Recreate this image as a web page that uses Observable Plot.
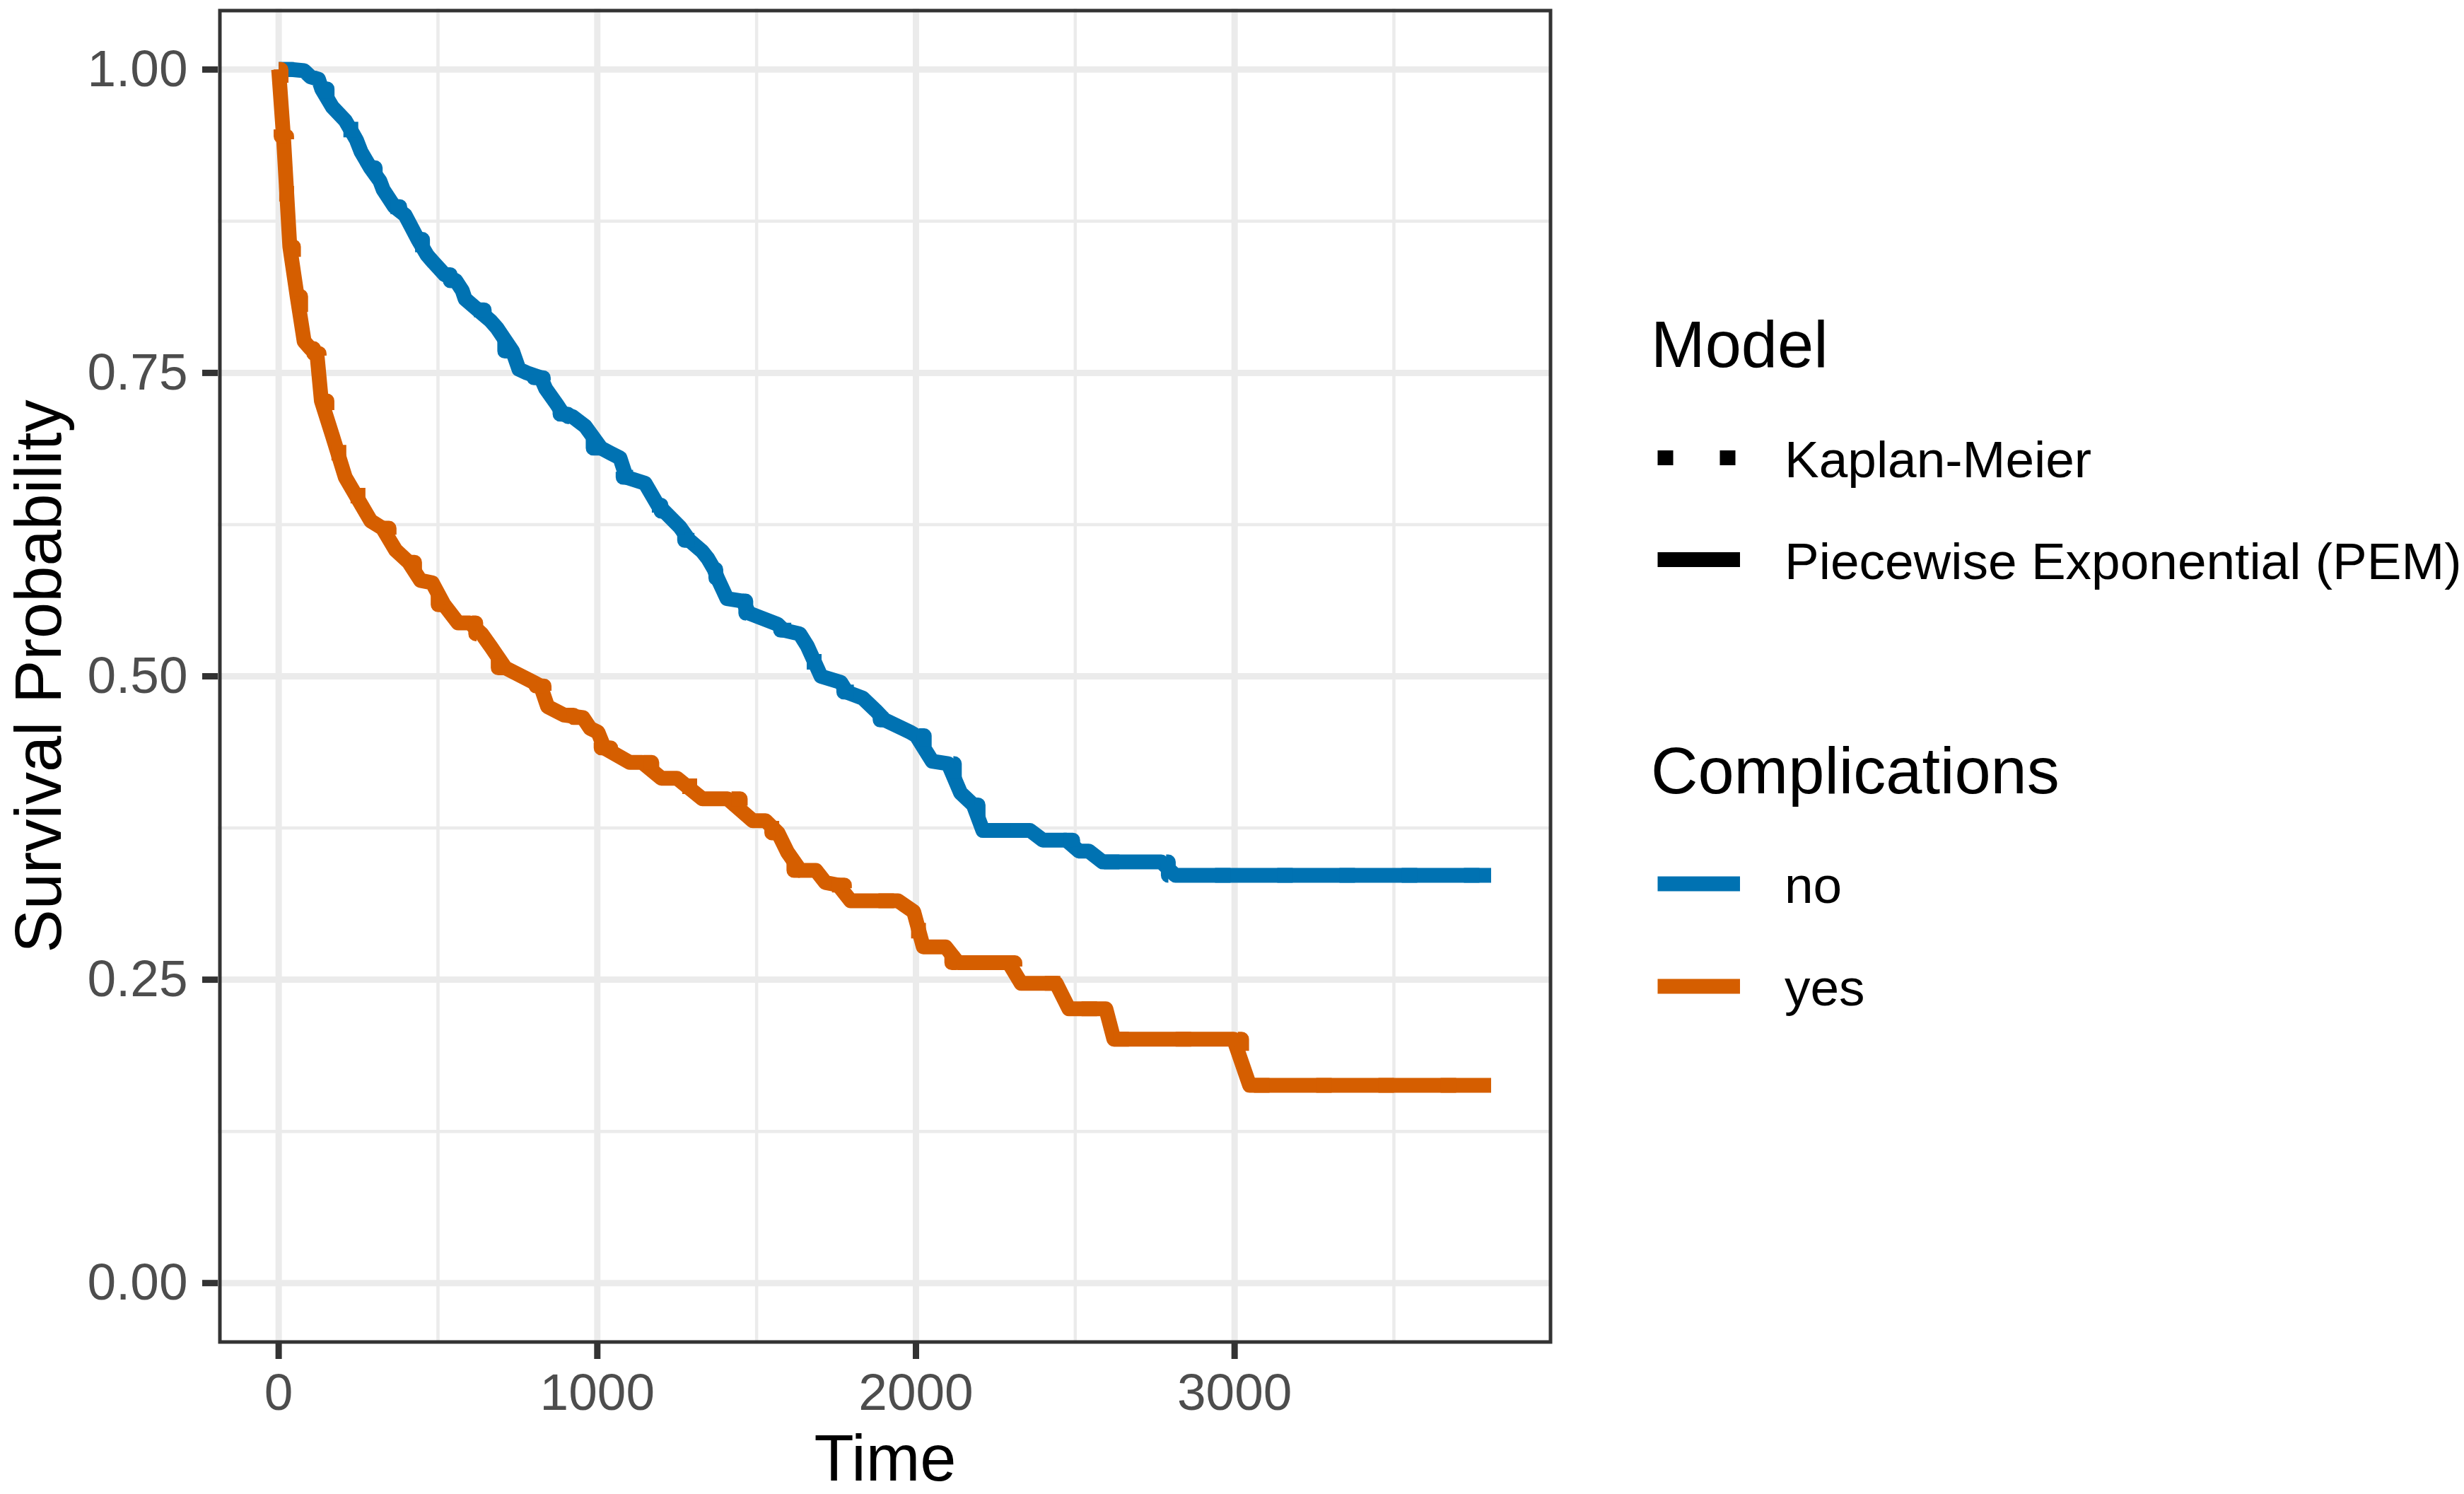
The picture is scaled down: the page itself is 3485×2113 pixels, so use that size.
<!DOCTYPE html>
<html><head><meta charset="utf-8">
<script src="https://cdn.jsdelivr.net/npm/d3@7"></script>
<script src="https://cdn.jsdelivr.net/npm/@observablehq/plot@0.6"></script>
<style>
html,body{margin:0;padding:0;background:#fff;}
#wrap{position:relative;width:3485px;height:2113px;font-family:"Liberation Sans",Arial,Helvetica,sans-serif;}
#wrap svg{position:absolute;left:0;top:0;}
</style></head><body><div id="wrap"></div>
<script>
// ---- data ----
const groups = ["no", "yes"];
const groupColors = ["#0072B2", "#D55E00"];
const models = ["Kaplan-Meier", "Piecewise Exponential (PEM)"];
const legendTitles = ["Model", "Complications"];
const xTicks = [0, 1000, 2000, 3000];
const xMinor = [500, 1500, 2500, 3500];
const yTicks = [0, 0.25, 0.5, 0.75, 1];
const yMinor = [0.125, 0.375, 0.625, 0.875];

const noTime = [0,40,80,100,125,135,169,209,244,259,288,318,328,363,397,407,437,466,486,521,556,576,585,625,665,685,734,754,779,823,838,873,893,922,962,1012,1041,1071,1091,1150,1190,1210,1259,1289,1329,1347,1367,1377,1407,1456,1476,1565,1585,1635,1659,1702,1764,1783,1833,1873,1902,1982,2001,2051,2101,2140,2180,2210,2358,2398,2472,2512,2542,2586,2770,2814,3805];
const noSurv = [1.000,1.000,0.999,0.994,0.992,0.984,0.969,0.958,0.942,0.932,0.919,0.908,0.901,0.887,0.880,0.875,0.860,0.847,0.841,0.831,0.826,0.818,0.811,0.802,0.793,0.787,0.768,0.753,0.750,0.746,0.737,0.724,0.716,0.714,0.706,0.688,0.684,0.680,0.664,0.659,0.641,0.636,0.623,0.612,0.603,0.597,0.588,0.581,0.564,0.562,0.552,0.543,0.538,0.535,0.525,0.500,0.495,0.487,0.482,0.472,0.464,0.454,0.451,0.430,0.428,0.404,0.394,0.373,0.373,0.365,0.365,0.356,0.356,0.347,0.347,0.336,0.336];

const yesTime = [0,15,35,58,80,100,120,134,169,209,289,326,367,408,445,482,519,563,600,637,667,711,793,822,844,896,955,978,1002,1022,1062,1102,1141,1201,1250,1330,1409,1488,1528,1567,1597,1637,1686,1716,1756,1795,1944,1993,2023,2093,2132,2291,2330,2440,2480,2596,2621,2997,3047,3805];
const yesSurv = [1.000,0.945,0.854,0.813,0.776,0.770,0.766,0.727,0.698,0.664,0.628,0.622,0.604,0.594,0.579,0.577,0.559,0.544,0.544,0.535,0.524,0.507,0.496,0.492,0.475,0.468,0.466,0.457,0.454,0.441,0.435,0.429,0.429,0.416,0.416,0.399,0.399,0.381,0.381,0.371,0.355,0.340,0.340,0.330,0.328,0.315,0.315,0.306,0.277,0.277,0.264,0.264,0.247,0.247,0.226,0.226,0.201,0.201,0.163,0.163];

// ---- table built from the arrays ----
const rows = [
  ...noTime.map((t, i) => ({t, S: noSurv[i], grp: groups[0]})),
  ...yesTime.map((t, i) => ({t, S: yesSurv[i], grp: groups[1]}))
];

const FONT = '"Liberation Sans", Arial, Helvetica, sans-serif';
const LW = 21;

const chart = Plot.plot({
  width: 3485,
  height: 2113,
  marginLeft: 308,
  marginRight: 1290,
  marginTop: 12,
  marginBottom: 213,
  x: {domain: [-190, 3997]},
  y: {domain: [-0.05, 1.05]},
  color: {domain: groups, range: groupColors},
  style: {fontFamily: FONT, background: "white"},
  marks: [
    Plot.ruleX(xMinor, {stroke: "#EBEBEB", strokeWidth: 4.5}),
    Plot.ruleY(yMinor, {stroke: "#EBEBEB", strokeWidth: 4.5}),
    Plot.ruleX(xTicks, {stroke: "#EBEBEB", strokeWidth: 9}),
    Plot.ruleY(yTicks, {stroke: "#EBEBEB", strokeWidth: 9}),
    // Piecewise Exponential (solid)
    Plot.line(rows, {x: "t", y: "S", z: "grp", stroke: "grp", strokeWidth: LW,
      strokeLinecap: "butt", strokeLinejoin: "round"}),
    // Kaplan-Meier (dotted step)
    Plot.line(rows, {x: "t", y: "S", z: "grp", stroke: "grp", strokeWidth: LW,
      curve: "step", strokeDasharray: "22,66", strokeLinecap: "butt"}),
    Plot.frame({stroke: "#333333", strokeWidth: 5, inset: 2.5}),
    Plot.axisX({ticks: xTicks, tickSize: 22, tickPadding: 20, fontSize: 73, label: null,
      stroke: "#333333", strokeWidth: 9, fill: "#4D4D4D", tickFormat: d => String(d)}),
    Plot.axisY({ticks: yTicks, tickSize: 22, tickPadding: 21, fontSize: 73, label: null,
      stroke: "#333333", strokeWidth: 9, fill: "#4D4D4D", tickFormat: d3.format(".2f")}),
    Plot.text(["Time"], {text: d => d, frameAnchor: "bottom", lineAnchor: "middle", textAnchor: "middle",
      dy: 164, fontSize: 92, fill: "black"}),
    Plot.text(["Survival Probability"], {text: d => d, frameAnchor: "left", textAnchor: "middle",
      lineAnchor: "middle", rotate: -90, dx: -252, fontSize: 92, fill: "black"})
  ]
});
document.getElementById("wrap").appendChild(chart);

// ---- legend (to the right of the panel) ----
const leg = d3.select("#wrap").append("svg")
  .attr("width", 3485).attr("height", 2113)
  .style("font-family", FONT).style("pointer-events", "none");

const keyX1 = 2344.5, keyX2 = 2461, textX = 2524, titleX = 2335;

leg.append("text").attr("x", titleX).attr("y", 519).attr("font-size", 92).attr("fill", "black").text(legendTitles[0]);
const modelKeys = [{y: 647.5, dash: "22,66", ty: 675}, {y: 791.5, dash: null, ty: 819}];
models.forEach((m, i) => {
  const k = modelKeys[i];
  const ln = leg.append("line").attr("x1", keyX1).attr("x2", keyX2).attr("y1", k.y).attr("y2", k.y)
    .attr("stroke", "black").attr("stroke-width", LW).attr("stroke-linecap", "butt");
  if (k.dash) ln.attr("stroke-dasharray", k.dash);
  leg.append("text").attr("x", textX).attr("y", k.ty).attr("font-size", 73).attr("fill", "black").text(m);
});

leg.append("text").attr("x", titleX).attr("y", 1122).attr("font-size", 92).attr("fill", "black").text(legendTitles[1]);
const groupKeys = [{y: 1250, ty: 1277}, {y: 1395, ty: 1422}];
groups.forEach((g, i) => {
  const k = groupKeys[i];
  leg.append("line").attr("x1", keyX1).attr("x2", keyX2).attr("y1", k.y).attr("y2", k.y)
    .attr("stroke", groupColors[i]).attr("stroke-width", LW).attr("stroke-linecap", "butt");
  leg.append("text").attr("x", textX).attr("y", k.ty).attr("font-size", 73).attr("fill", "black").text(g);
});
</script></body></html>
